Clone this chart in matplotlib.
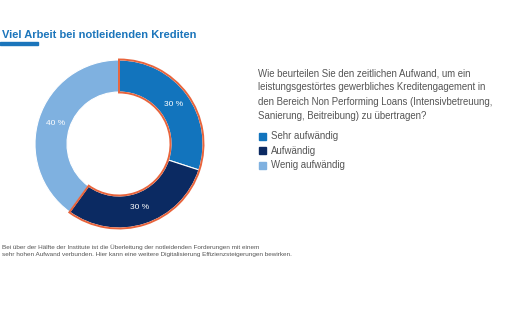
import matplotlib
matplotlib.use("Agg")
import matplotlib.pyplot as plt
from matplotlib.patches import Wedge, Rectangle

plt.rcParams['font.family'] = ['Liberation Sans', 'DejaVu Sans']

categories = ['Sehr aufwändig', 'Aufwändig', 'Wenig aufwändig']
values = [30, 30, 40]
colors = ['#1274bd', '#0b2a62', '#7fb1e0']
title = 'Viel Arbeit bei notleidenden Krediten'
question = ('Wie beurteilen Sie den zeitlichen Aufwand, um ein\n'
            'leistungsgestörtes gewerbliches Kreditengagement in\n'
            'den Bereich Non Performing Loans (Intensivbetreuung,\n'
            'Sanierung, Beitreibung) zu übertragen?')
footer = ('Bei über der Hälfte der Institute ist die Überleitung der notleidenden Forderungen mit einem\n'
          'sehr hohen Aufwand verbunden. Hier kann eine weitere Digitalisierung Effizienzsteigerungen bewirken.')

W, H = 516, 323
fig = plt.figure(figsize=(W / 100, H / 100), dpi=100)
fig.patch.set_facecolor('white')

# title + blue underline
fig.text(2 / W, 1 - 35 / H, title, color='#1b75bb', fontsize=8, fontweight='bold', va='center')
fig.patches.append(Rectangle((0, 1 - 45 / H), 38 / W, 3 / H, transform=fig.transFigure,
                             color='#1b75bb', figure=fig))

# donut
cx, cy, R = 119, 144, 84
ax = fig.add_axes([(cx - 90) / W, 1 - (cy + 90) / H, 180 / W, 180 / H])
wedges, texts, autotexts = ax.pie(values, colors=colors, radius=R, startangle=90, counterclock=False,
                                  wedgeprops=dict(width=32, edgecolor='white', linewidth=0.8),
                                  autopct=lambda p: f'{p:.0f} %', pctdistance=0.8)
for t in autotexts:
    t.set_color('white')
    t.set_fontsize(6)
# orange selection outline around the first two segments
sel = sum(values[:2]) / sum(values) * 360
ax.add_patch(Wedge((0, 0), R + 0.5, 90 - sel, 90, width=33, fill=False,
                   edgecolor='#e8643c', linewidth=1.4))
ax.set_xlim(-90, 90)
ax.set_ylim(-90, 90)
ax.set_aspect('equal')
ax.axis('off')

# question text
fig.text(258 / W, 1 - 68 / H, question, color='#555555', fontsize=6.9, va='top', linespacing=1.55)

# legend
for i, (c, lab) in enumerate(zip(categories, colors)):
    y = 136 + i * 14.5
    fig.patches.append(Rectangle((259 / W, 1 - (y + 3.5) / H), 7 / W, 7 / H,
                                 transform=fig.transFigure, color=lab, figure=fig))
    fig.text(271 / W, 1 - y / H, c, color='#555555', fontsize=6.9, va='center')

# footer
fig.text(2 / W, 1 - 244 / H, footer, color='#555555', fontsize=4.6, va='top', linespacing=1.6)

fig.savefig('out.png', dpi=100)
